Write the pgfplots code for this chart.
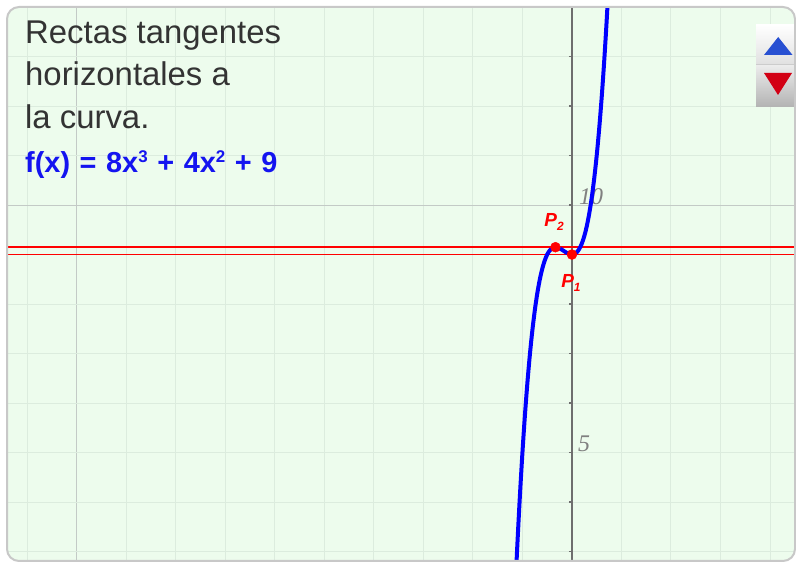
\documentclass[border=0pt]{standalone}
\usepackage{fontspec}
\setmainfont{Liberation Sans}
\newfontfamily\seriffont{Liberation Serif}
\usepackage{pgfplots}
\pgfplotsset{compat=1.18}
\definecolor{bggreen}{RGB}{237,252,237}
\definecolor{gridgreen}{RGB}{220,236,222}
\definecolor{majorgrid}{RGB}{195,202,198}
\definecolor{axisgray}{RGB}{110,110,110}
\definecolor{framegray}{RGB}{200,200,200}
\definecolor{textgray}{RGB}{51,51,51}
\definecolor{fblue}{RGB}{20,20,240}
\definecolor{curveblue}{RGB}{0,0,255}
\definecolor{ptred}{RGB}{255,0,0}
\definecolor{lblgray}{RGB}{128,128,128}
\definecolor{btnblue}{RGB}{40,80,210}
\definecolor{btnred}{RGB}{210,0,20}
\newcommand{\wsp}{\hspace{9.6bp}}
\begin{document}
\begin{tikzpicture}
\useasboundingbox (0,0) rectangle (796bp,563bp);
\begin{scope}
\clip[rounded corners=12bp] (7bp,2bp) rectangle (795bp,556bp);
\fill[bggreen] (0,0) rectangle (796bp,563bp);
\begin{axis}[
  at={(8bp,3bp)}, anchor=south west,
  scale only axis, width=787bp, height=552bp,
  xmin=-11.39, xmax=4.505, ymin=2.83, ymax=13.98,
  axis line style={draw=none},
  xtick={-10}, ytick={10},
  minor xtick={-11,...,4}, minor ytick={3,...,13},
  xticklabels={}, yticklabels={},
  tick style={draw=none},
  grid=both,
  major grid style={color=majorgrid, line width=1bp},
  minor grid style={color=gridgreen, line width=1bp},
  clip=true,
]
% y axis with ticks
\draw[axisgray, line width=1.5bp] (axis cs:0,2) -- (axis cs:0,15);
\pgfplotsinvokeforeach{3,...,13}{
  \draw[axisgray, line width=1.2bp] ([xshift=-3bp]axis cs:0,#1) -- ([xshift=1.5bp]axis cs:0,#1);
}
\node[anchor=base west, text=lblgray, font=\seriffont\itshape\fontsize{24}{24}\selectfont, inner sep=0pt] at ([xshift=7bp,yshift=1bp]axis cs:0,10) {10};
\node[anchor=base west, text=lblgray, font=\seriffont\itshape\fontsize{24}{24}\selectfont, inner sep=0pt] at ([xshift=6bp,yshift=1bp]axis cs:0,5) {5};
% horizontal tangent lines
\addplot[draw=red, color=red, line width=1.8bp, no marks] coordinates {(-12,9) (5,9)};
\addplot[draw=red, color=red, line width=1.8bp, no marks] coordinates {(-12,9.148) (5,9.148)};
% curve f(x) = 8x^3 + 4x^2 + 9
\addplot[curveblue, line width=4bp, smooth, no marks] coordinates {
(-1.20,0.936) (-1.15,2.123) (-1.10,3.192) (-1.05,4.149) (-1.00,5.000)
(-0.95,5.751) (-0.90,6.408) (-0.85,6.977) (-0.80,7.464) (-0.75,7.875)
(-0.70,8.216) (-0.65,8.493) (-0.60,8.712) (-0.55,8.879) (-0.50,9.000)
(-0.45,9.081) (-0.40,9.128) (-0.35,9.147) (-0.3333,9.148) (-0.30,9.144)
(-0.25,9.125) (-0.20,9.096) (-0.15,9.063) (-0.10,9.032) (-0.05,9.009)
(0.00,9.000) (0.05,9.011) (0.10,9.048) (0.15,9.117) (0.20,9.224)
(0.25,9.375) (0.30,9.576) (0.35,9.833) (0.40,10.152) (0.45,10.539)
(0.50,11.000) (0.55,11.541) (0.60,12.168) (0.65,12.887) (0.70,13.704)
(0.75,14.625)
};
% points
\addplot[only marks, mark=*, mark size=5bp, color=red, mark options={draw=red, fill=red}] coordinates {(0,9) (-0.3333,9.148)};
\node[text=ptred, font=\bfseries\itshape\fontsize{19}{19}\selectfont, inner sep=0pt] at (axis cs:-0.36,9.66) {P\raisebox{-4bp}{\fontsize{12}{12}\selectfont 2}};
\node[text=ptred, font=\bfseries\itshape\fontsize{19}{19}\selectfont, inner sep=0pt] at (axis cs:-0.02,8.42) {P\raisebox{-4bp}{\fontsize{12}{12}\selectfont 1}};
\end{axis}
% buttons
\shade[top color=white, bottom color=white!88!black] (756bp,499bp) rectangle (800bp,538bp);
\shade[top color=white!92!black, bottom color=white!70!black] (756bp,456bp) rectangle (800bp,497bp);
\draw[white!80!black, line width=1bp] (756bp,498bp) -- (800bp,498bp);
\fill[btnblue] (764bp,508bp) -- (792.5bp,508bp) -- (778.2bp,526bp) -- cycle;
\fill[btnred] (764bp,490bp) -- (792bp,490bp) -- (778bp,468bp) -- cycle;
\end{scope}
\draw[framegray, line width=2bp, rounded corners=12bp] (7bp,2bp) rectangle (795bp,556bp);
% text
\node[anchor=base west, inner sep=0pt, text=textgray, font=\fontsize{33}{33}\selectfont] at (25bp,519.5bp) {Rectas tangentes};
\node[anchor=base west, inner sep=0pt, text=textgray, font=\fontsize{33}{33}\selectfont] at (25bp,477.5bp) {horizontales a};
\node[anchor=base west, inner sep=0pt, text=textgray, font=\fontsize{33}{33}\selectfont] at (25bp,434.5bp) {la curva.};
\node[anchor=base west, inner sep=0pt, text=fblue, font=\bfseries\fontsize{29}{29}\selectfont] at (25bp,390bp) {f(x)\wsp=\wsp8x\raisebox{10.5bp}{\fontsize{17}{17}\selectfont 3}\wsp+\wsp4x\raisebox{10.5bp}{\fontsize{17}{17}\selectfont 2}\wsp+\wsp9};
\end{tikzpicture}
\end{document}
